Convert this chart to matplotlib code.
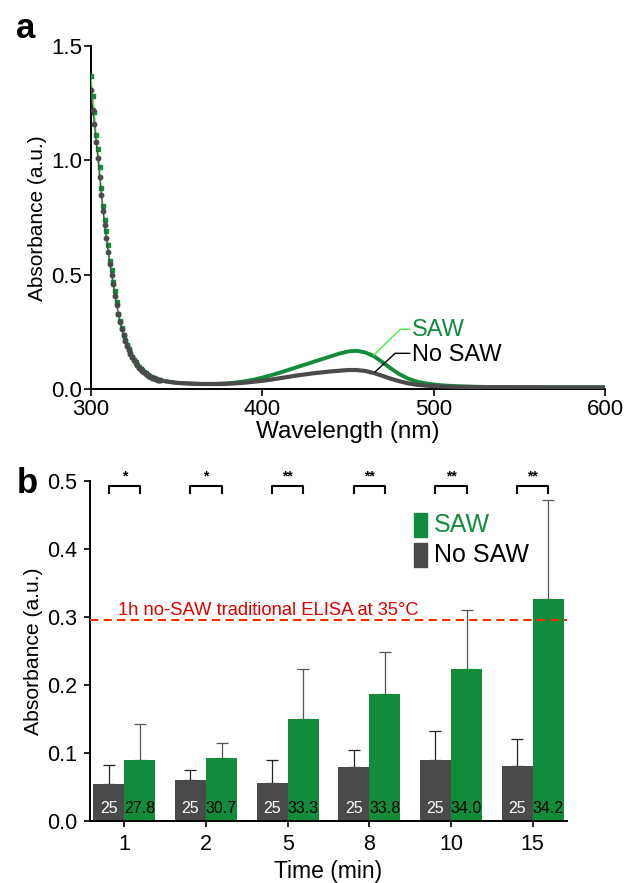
import numpy as np
import matplotlib
matplotlib.use("Agg")
import matplotlib.pyplot as plt
from matplotlib.patches import Rectangle

plt.rcParams['font.family'] = ['Liberation Sans', 'DejaVu Sans']

# --- panel a : absorbance spectra ---
# 1 nm steps on the steep part, 5 nm after that
wavelength = np.concatenate([np.arange(300, 341), np.arange(345, 601, 5)])

abs_saw = [1.37, 1.28, 1.21, 1.11, 1.05, 0.97, 0.88, 0.80, 0.74, 0.69,
           0.63, 0.56, 0.52, 0.47, 0.43, 0.38, 0.33, 0.30, 0.27, 0.24,
           0.215, 0.195, 0.175, 0.158, 0.143, 0.130, 0.118, 0.107, 0.098, 0.090,
           0.083, 0.076, 0.070, 0.065, 0.060, 0.056, 0.052, 0.049, 0.046, 0.043,
           0.041,
           0.034, 0.029, 0.027, 0.025, 0.024, 0.024, 0.025, 0.027, 0.031, 0.036,
           0.043, 0.052, 0.062, 0.073, 0.085, 0.097, 0.109, 0.121, 0.133, 0.145,
           0.157, 0.166, 0.169, 0.162, 0.146, 0.120, 0.092, 0.067, 0.048, 0.035,
           0.027, 0.022, 0.018, 0.016, 0.014, 0.013, 0.012, 0.011, 0.011, 0.011,
           0.010, 0.010, 0.010, 0.010, 0.010, 0.010, 0.010, 0.010, 0.010, 0.010,
           0.010, 0.010]

abs_nosaw = [1.31, 1.22, 1.16, 1.08, 1.01, 0.93, 0.85, 0.78, 0.72, 0.66,
             0.60, 0.55, 0.50, 0.46, 0.41, 0.37, 0.33, 0.295, 0.265, 0.237,
             0.212, 0.192, 0.172, 0.155, 0.140, 0.127, 0.115, 0.105, 0.096, 0.088,
             0.081, 0.075, 0.069, 0.064, 0.059, 0.055, 0.051, 0.048, 0.045, 0.042,
             0.040,
             0.034, 0.029, 0.027, 0.025, 0.024, 0.024, 0.024, 0.025, 0.027, 0.030,
             0.034, 0.038, 0.043, 0.049, 0.055, 0.061, 0.066, 0.071, 0.075, 0.079,
             0.082, 0.085, 0.085, 0.081, 0.072, 0.060, 0.047, 0.036, 0.027, 0.021,
             0.017, 0.015, 0.013, 0.012, 0.011, 0.011, 0.010, 0.010, 0.010, 0.010,
             0.010, 0.010, 0.010, 0.010, 0.009, 0.009, 0.009, 0.009, 0.009, 0.009,
             0.009, 0.009]

# --- panel b : ELISA bars ---
times = ['1', '2', '5', '8', '10', '15']
saw_mean = [0.090, 0.093, 0.150, 0.187, 0.223, 0.326]
saw_err = [0.052, 0.021, 0.073, 0.062, 0.088, 0.146]
nosaw_mean = [0.054, 0.060, 0.056, 0.079, 0.090, 0.081]
nosaw_err = [0.029, 0.015, 0.033, 0.025, 0.042, 0.039]
saw_temp = ['27.8', '30.7', '33.3', '33.8', '34.0', '34.2']
nosaw_temp = ['25', '25', '25', '25', '25', '25']
signif = ['*', '*', '**', '**', '**', '**']
elisa_ref = 0.295

GREEN = '#118c3a'
LIME = '#44ee44'
GREY = '#4a4a4a'


def style_axes(ax, fs, length, pad):
    for s in ['top', 'right']:
        ax.spines[s].set_visible(False)
    for s in ['left', 'bottom']:
        ax.spines[s].set_linewidth(1.4)
    ax.tick_params(direction='out', length=length, width=1.2, labelsize=fs, pad=pad)


def plot_spectra(ax):
    wl = np.asarray(wavelength)
    n = 41
    # thin line + markers on the steep part
    ax.plot(wl[:n], abs_saw[:n], color=LIME, lw=0.9, marker='s', ms=3.2,
            mfc=GREEN, mec=GREEN, zorder=3)
    ax.plot(wl[:n], abs_nosaw[:n], color=GREY, lw=0.9, marker='o', ms=3.2,
            mfc=GREY, mec=GREY, zorder=4)
    # thick line where the markers merge
    ax.plot(wl[n - 6:], abs_saw[n - 6:], color=GREEN, lw=2.8, zorder=3,
            solid_capstyle='round')
    ax.plot(wl[n - 6:], abs_nosaw[n - 6:], color=GREY, lw=3.0, zorder=4,
            solid_capstyle='round')

    # leader lines to labels
    ax.plot([465, 480.5, 486], [0.15, 0.263, 0.263], color=LIME, lw=1.0, zorder=5)
    ax.plot([466, 477.5, 486], [0.078, 0.158, 0.158], color='black', lw=1.0, zorder=5)
    ax.text(487.5, 0.258, 'SAW', color=GREEN, fontsize=17, va='center', ha='left')
    ax.text(487.5, 0.152, 'No SAW', color='black', fontsize=17, va='center', ha='left')

    ax.set_xlim(300, 600)
    ax.set_ylim(0, 1.5)
    ax.set_xticks([300, 400, 500, 600])
    ax.set_yticks([0.0, 0.5, 1.0, 1.5])
    ax.set_yticklabels(['0.0', '0.5', '1.0', '1.5'])
    ax.set_xlabel('Wavelength (nm)', fontsize=17.5, labelpad=1)
    ax.set_ylabel('Absorbance (a.u.)', fontsize=15, labelpad=3)
    style_axes(ax, 16, 5, 1.5)


def plot_bars(ax):
    x = np.arange(len(times))
    w = 0.38
    ax.bar(x - w, nosaw_mean, width=w, align='edge', color=GREY, zorder=2)
    ax.bar(x, saw_mean, width=w, align='edge', color=GREEN, zorder=2)
    zeros = np.zeros(len(times))
    ax.errorbar(x - w / 2, nosaw_mean, yerr=[zeros, nosaw_err], fmt='none',
                ecolor='#222222', elinewidth=0.9, capsize=4.5, capthick=0.9, zorder=1)
    ax.errorbar(x + w / 2, saw_mean, yerr=[zeros, saw_err], fmt='none',
                ecolor='#555555', elinewidth=0.9, capsize=4.5, capthick=0.9, zorder=1)

    # temperature labels inside the bars
    for i in range(len(times)):
        ax.text(x[i] - w / 2, 0.019, nosaw_temp[i], color='white', fontsize=11.5,
                ha='center', va='center', zorder=3)
        ax.text(x[i] + w / 2, 0.019, saw_temp[i], color='black', fontsize=11.5,
                ha='center', va='center', zorder=3)

    # significance brackets
    for i in range(len(times)):
        ax.plot([x[i] - w / 2, x[i] - w / 2, x[i] + w / 2, x[i] + w / 2],
                [0.483, 0.493, 0.493, 0.483], color='black', lw=1.5,
                clip_on=False)
        ax.text(x[i], 0.497, signif[i], fontsize=10, ha='center', va='bottom',
                fontweight='bold')

    # reference line
    ax.axhline(elisa_ref, color='#ff2a00', lw=1.5, ls=(0, (4, 2.5)), zorder=4)
    ax.text(0.059, elisa_ref + 0.008, u'1h no-SAW traditional ELISA at 35\u00b0C',
            transform=ax.get_yaxis_transform(), color='#dd0000', fontsize=13.2,
            va='baseline', ha='left')

    # legend drawn by hand
    ax.add_patch(Rectangle((0.679, 0.835), 0.027, 0.071, transform=ax.transAxes,
                           color=GREEN, clip_on=False))
    ax.add_patch(Rectangle((0.679, 0.747), 0.027, 0.071, transform=ax.transAxes,
                           color=GREY, clip_on=False))
    ax.text(0.721, 0.871, 'SAW', color=GREEN, fontsize=18, va='center',
            transform=ax.transAxes)
    ax.text(0.721, 0.782, 'No SAW', color='black', fontsize=18, va='center',
            transform=ax.transAxes)

    ax.set_xlim(-0.42, len(times) - 1 + 0.42)
    ax.set_ylim(0, 0.5)
    ax.set_xticks(x)
    ax.set_xticklabels(times)
    ax.set_yticks([0.0, 0.1, 0.2, 0.3, 0.4, 0.5])
    ax.set_yticklabels(['0.0', '0.1', '0.2', '0.3', '0.4', '0.5'])
    ax.set_xlabel('Time (min)', fontsize=16.5, labelpad=4)
    ax.set_ylabel('Absorbance (a.u.)', fontsize=15.2, labelpad=3)
    style_axes(ax, 15.5, 4.5, 4.5)


def main():
    fig = plt.figure(figsize=(6.25, 8.83), dpi=100)
    ax_a = fig.add_axes([0.1456, 0.5589, 0.8224, 0.389])
    ax_b = fig.add_axes([0.144, 0.0702, 0.7632, 0.3851])
    plot_spectra(ax_a)
    plot_bars(ax_b)
    fig.text(0.041, 0.968, 'a', fontsize=25, fontweight='bold', ha='center', va='center')
    fig.text(0.043, 0.452, 'b', fontsize=25, fontweight='bold', ha='center', va='center')
    fig.savefig('out.png', dpi=100)


if __name__ == "__main__":
    main()
